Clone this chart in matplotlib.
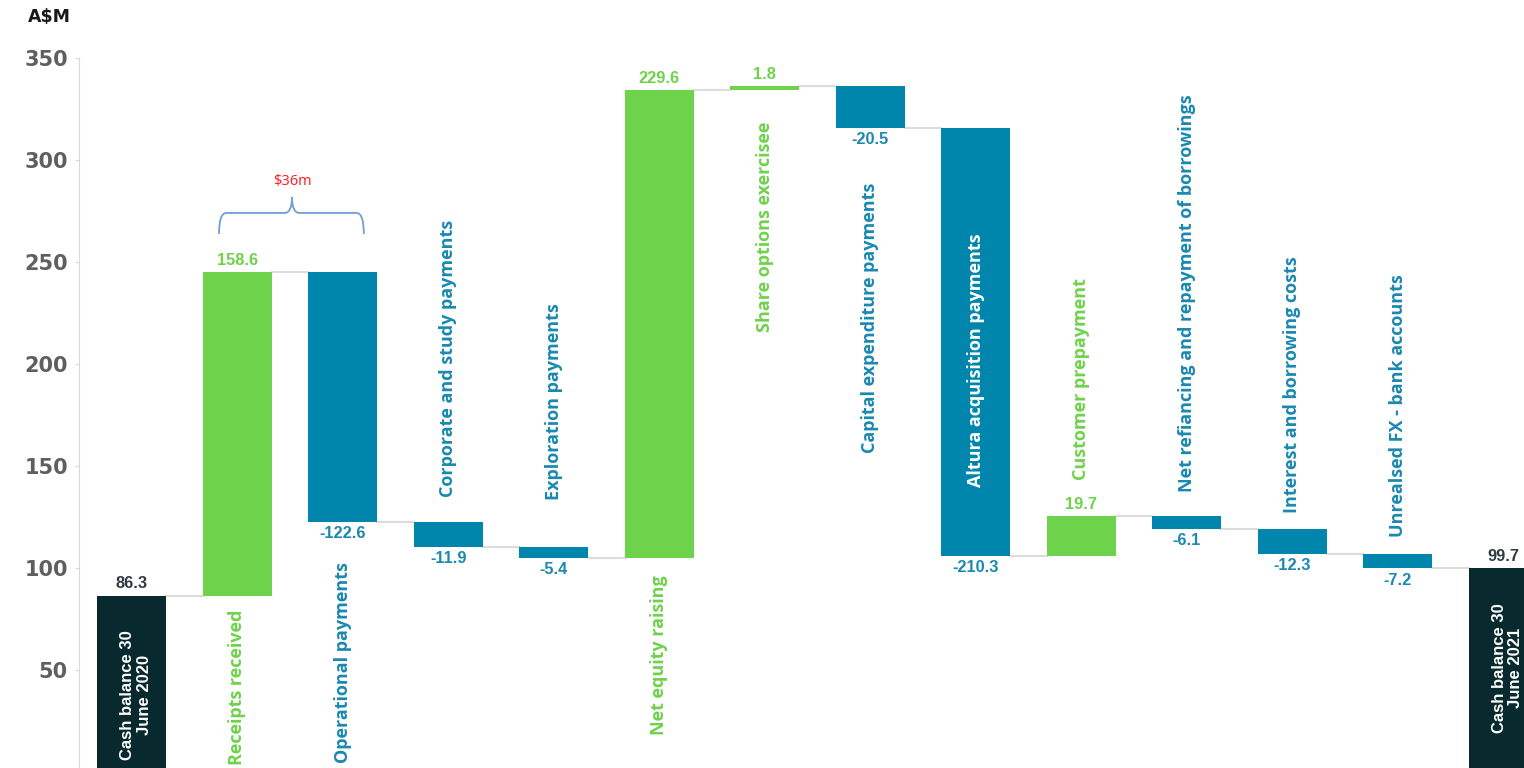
import numpy as np
import matplotlib.pyplot as plt
from matplotlib.path import Path
from matplotlib.patches import PathPatch

# cash flow items (A$M), first and last are balances
categories = ['Cash balance 30\nJune 2020', 'Receipts received', 'Operational payments',
              'Corporate and study payments', 'Exploration payments', 'Net equity raising',
              'Share options exercisee', 'Capital expenditure payments',
              'Altura acquisition payments', 'Customer prepayment',
              'Net refiancing and repayment of borrowings', 'Interest and borrowing costs',
              'Unrealsed FX - bank accounts', 'Cash balance 30\nJune 2021']
values = [86.3, 158.6, -122.6, -11.9, -5.4, 229.6, 1.8, -20.5, -210.3, 19.7, -6.1, -12.3, -7.2, 99.7]
is_total = [True] + [False] * 12 + [True]
bracket_text = '$36m'
yticks = [50, 100, 150, 200, 250, 300, 350]

# colours
dark = '#08292e'
green = '#6fd24b'
blue = '#0085ad'
blue_txt = '#1a88b0'
grey_line = '#dcdcdc'

# where each category label sits (y in data units) and how it is anchored
label_y = [5.6, 79.3, 102.8, 134.7, 133.2, 96.4, 318.8, 288.8, 139.6, 143.0, 137.2, 126.9, 115.1, 18.9]
label_va = ['bottom', 'top', 'top', 'bottom', 'bottom', 'top', 'top', 'top',
            'bottom', 'bottom', 'bottom', 'bottom', 'bottom', 'bottom']

fig = plt.figure(figsize=(15.24, 7.68), dpi=100)
# axes runs past the right and bottom edge like the cropped original
ax = fig.add_axes([79 / 1524, -3.5 / 768, 1477 / 1524, 713.2 / 768])

x = np.arange(len(values))
width = 0.654

# work out bar bottoms and heights
bottoms = []
heights = []
level = 0.0
levels_after = []
for v, tot in zip(values, is_total):
    if tot:
        bottoms.append(0)
        heights.append(v)
        level = v
    else:
        bottoms.append(min(level, level + v))
        heights.append(abs(v))
        level = level + v
    levels_after.append(level)

colors = [dark if t else (green if v > 0 else blue) for v, t in zip(values, is_total)]
ax.bar(x, heights, width, bottom=bottoms, color=colors, zorder=3)

# connector lines
for i in range(len(values) - 1):
    ax.plot([x[i] + width / 2, x[i + 1] - width / 2], [levels_after[i], levels_after[i]],
            color=grey_line, lw=1.5, zorder=2)

# value labels
val_font = dict(fontsize=11.8, family='Liberation Sans', weight='bold', ha='center')
for i, v in enumerate(values):
    top = bottoms[i] + heights[i]
    if is_total[i]:
        ax.annotate(f'{v:.1f}', (x[i], top), xytext=(0, 3), textcoords='offset points',
                    va='bottom', color='#2f3b40', **val_font)
    elif v > 0:
        ax.annotate(f'{v:.1f}', (x[i], top), xytext=(0, 3), textcoords='offset points',
                    va='bottom', color=green, **val_font)
    else:
        ax.annotate(f'{v:.1f}', (x[i], bottoms[i]), xytext=(0, -3), textcoords='offset points',
                    va='top', color=blue_txt, **val_font)

# category labels, rotated
for i, name in enumerate(categories):
    if is_total[i]:
        ax.text(x[i] + 0.04, label_y[i], name, rotation=90, ha='center', va=label_va[i],
                color='white', fontsize=12, family='Liberation Sans', weight='bold',
                linespacing=1.15, multialignment='center', zorder=4)
        continue
    if i == 8:
        c = 'white'
    elif values[i] > 0:
        c = green
    else:
        c = blue_txt
    ax.text(x[i], label_y[i], name, rotation=90, ha='center', va=label_va[i],
            color=c, fontsize=13, family='Open Sans', weight='bold', zorder=4)

# curly bracket over receipts / operational payments
bx0, bxm, bx1 = 0.827, 1.519, 2.20
by_tip, by_mid, by_top = 263.8, 274.1, 281.9
r = 0.07
verts = [(bx0, by_tip), (bx0, by_mid), (bx0 + r, by_mid),
         (bxm - r, by_mid), (bxm, by_mid), (bxm, by_top),
         (bxm, by_mid), (bxm + r, by_mid),
         (bx1 - r, by_mid), (bx1, by_mid), (bx1, by_tip)]
codes = [Path.MOVETO, Path.CURVE3, Path.CURVE3,
         Path.LINETO, Path.CURVE3, Path.CURVE3,
         Path.CURVE3, Path.CURVE3,
         Path.LINETO, Path.CURVE3, Path.CURVE3]
ax.add_patch(PathPatch(Path(verts, codes), fill=False, edgecolor='#6e9fd8', lw=1.3, zorder=4))
ax.text(bxm, 289.3, bracket_text, ha='center', va='center', color='#ff1a1a', fontsize=10.5,
        family='Open Sans')

# axes styling
ax.set_xlim(-0.5, len(values) - 0.5)
ax.set_ylim(0, 350)
ax.set_yticks(yticks)
ax.set_xticks([])
for s in ['top', 'right', 'bottom']:
    ax.spines[s].set_visible(False)
ax.spines['left'].set_color('#d9d9d9')
ax.tick_params(axis='y', length=3, color='#d9d9d9', labelsize=15, labelcolor='#5f5f5f', pad=5)
for lab in ax.get_yticklabels():
    lab.set_fontweight('bold')

fig.text(28 / 1524, 1 - 17 / 768, 'A$M', ha='left', va='center', fontsize=12.5,
         weight='bold', color='#1a1a1a')

fig.savefig('out.png', dpi=100)
